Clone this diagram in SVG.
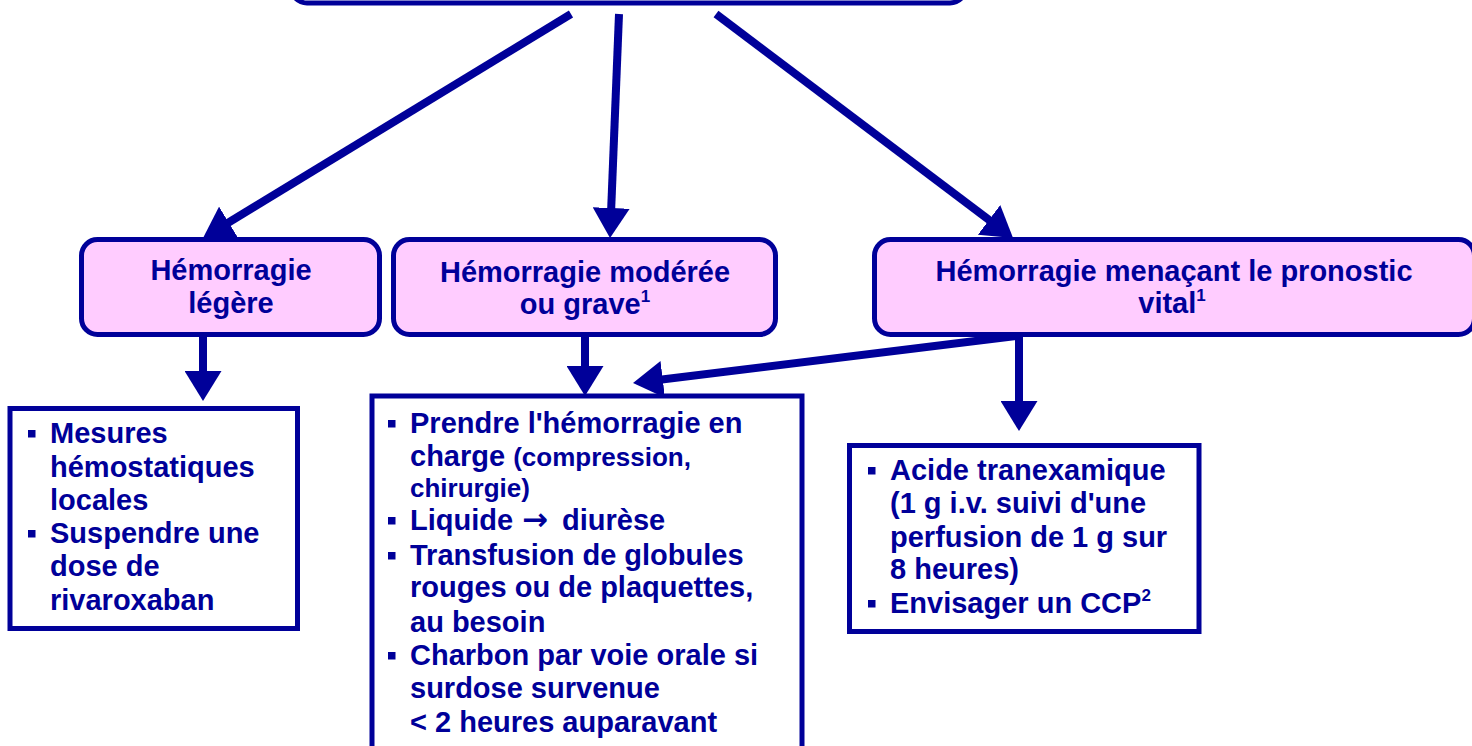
<svg xmlns="http://www.w3.org/2000/svg" width="1472" height="746" viewBox="0 0 1472 746">
  <style>
    .txt { font-family: "Liberation Sans", Arial, sans-serif; font-weight: bold; font-size: 29px; fill: #000099; }
    .small { font-size: 26px; }
    .sup { font-size: 17px; }
    .arrow { font-family: "DejaVu Sans", sans-serif; font-size: 31px; }
    .pill { fill: #FFCCFF; stroke: #000099; stroke-width: 5; }
    .card { fill: #FFFFFF; stroke: #000099; stroke-width: 5; }
    .link { stroke: #000099; stroke-width: 8; fill: none; marker-end: url(#head); }
    .mid { text-anchor: middle; }
  </style>
  <defs>
    <marker id="head" markerUnits="userSpaceOnUse" viewBox="0 0 30 37" markerWidth="30" markerHeight="37" refX="3" refY="18.5" orient="auto">
      <path d="M0,0 L30,18.5 L0,37 Z" fill="#000099"/>
    </marker>
    <rect id="bullet" width="7.5" height="7.5" fill="#000099"/>
  </defs>

  <!-- root box (mostly above the visible area) -->
  <g id="root">
    <rect class="card" x="291" y="-80" width="675" height="83" rx="16"/>
  </g>

  <!-- connectors -->
  <g id="connectors">
    <line class="link" x1="571" y1="14" x2="226.1" y2="224"/>
    <line class="link" x1="619" y1="14" x2="611.1" y2="211"/>
    <line class="link" x1="716" y1="14" x2="991.5" y2="221.7"/>
    <line class="link" x1="203" y1="337" x2="203" y2="374"/>
    <line class="link" x1="585" y1="337" x2="585" y2="369"/>
    <line class="link" x1="1019" y1="336" x2="1019" y2="404"/>
    <line class="link" x1="1016" y1="336" x2="659.8" y2="379.7"/>
  </g>

  <!-- severity categories -->
  <g id="mild">
    <rect class="pill" x="81.5" y="239.5" width="298" height="95" rx="16"/>
    <text class="txt mid" x="231" y="280">Hémorragie</text>
    <text class="txt mid" x="231" y="313">légère</text>
  </g>
  <g id="moderate">
    <rect class="pill" x="393.5" y="239.5" width="382" height="95" rx="16"/>
    <text class="txt mid" x="585" y="282">Hémorragie modérée</text>
    <text class="txt mid" x="585" y="314">ou grave<tspan class="sup" dy="-12">1</tspan></text>
  </g>
  <g id="lifethreat">
    <rect class="pill" x="874.5" y="239.5" width="600" height="95" rx="16"/>
    <text class="txt mid" x="1174" y="281">Hémorragie menaçant le pronostic</text>
    <text class="txt mid" x="1172" y="313">vital<tspan class="sup" dy="-12">1</tspan></text>
  </g>

  <!-- actions: mild -->
  <g id="mild-actions">
    <rect class="card" x="10" y="408.5" width="287.5" height="220"/>
    <use href="#bullet" x="28" y="430"/>
    <text class="txt" x="50" y="443">Mesures</text>
    <text class="txt" x="50" y="477">hémostatiques</text>
    <text class="txt" x="50" y="510">locales</text>
    <use href="#bullet" x="28" y="530"/>
    <text class="txt" x="50" y="543">Suspendre une</text>
    <text class="txt" x="50" y="576">dose de</text>
    <text class="txt" x="50" y="610">rivaroxaban</text>
  </g>

  <!-- actions: moderate / severe -->
  <g id="moderate-actions">
    <rect class="card" x="372" y="396" width="430" height="370"/>
    <use href="#bullet" x="388" y="420"/>
    <text class="txt" x="410" y="433">Prendre l'hémorragie en</text>
    <text class="txt" x="410" y="466">charge <tspan class="small">(compression,</tspan></text>
    <text class="txt small" x="410" y="497">chirurgie)</text>
    <use href="#bullet" x="388" y="517"/>
    <text class="txt" x="410" y="530">Liquide <tspan class="arrow" x="522">→</tspan><tspan x="562">diurèse</tspan></text>
    <use href="#bullet" x="388" y="552"/>
    <text class="txt" x="410" y="565">Transfusion de globules</text>
    <text class="txt" x="410" y="597">rouges ou de plaquettes,</text>
    <text class="txt" x="410" y="632">au besoin</text>
    <use href="#bullet" x="388" y="652"/>
    <text class="txt" x="410" y="665">Charbon par voie orale si</text>
    <text class="txt" x="410" y="698">surdose survenue</text>
    <text class="txt" x="410" y="732">&lt; 2 heures auparavant</text>
  </g>

  <!-- actions: life-threatening -->
  <g id="lifethreat-actions">
    <rect class="card" x="849.5" y="445.5" width="349.5" height="186"/>
    <use href="#bullet" x="868" y="467"/>
    <text class="txt" x="890" y="480">Acide tranexamique</text>
    <text class="txt" x="890" y="513">(1 g i.v. suivi d'une</text>
    <text class="txt" x="890" y="547">perfusion de 1 g sur</text>
    <text class="txt" x="890" y="579">8 heures)</text>
    <use href="#bullet" x="868" y="600"/>
    <text class="txt" x="890" y="613">Envisager un CCP<tspan class="sup" dy="-12">2</tspan></text>
  </g>
</svg>
